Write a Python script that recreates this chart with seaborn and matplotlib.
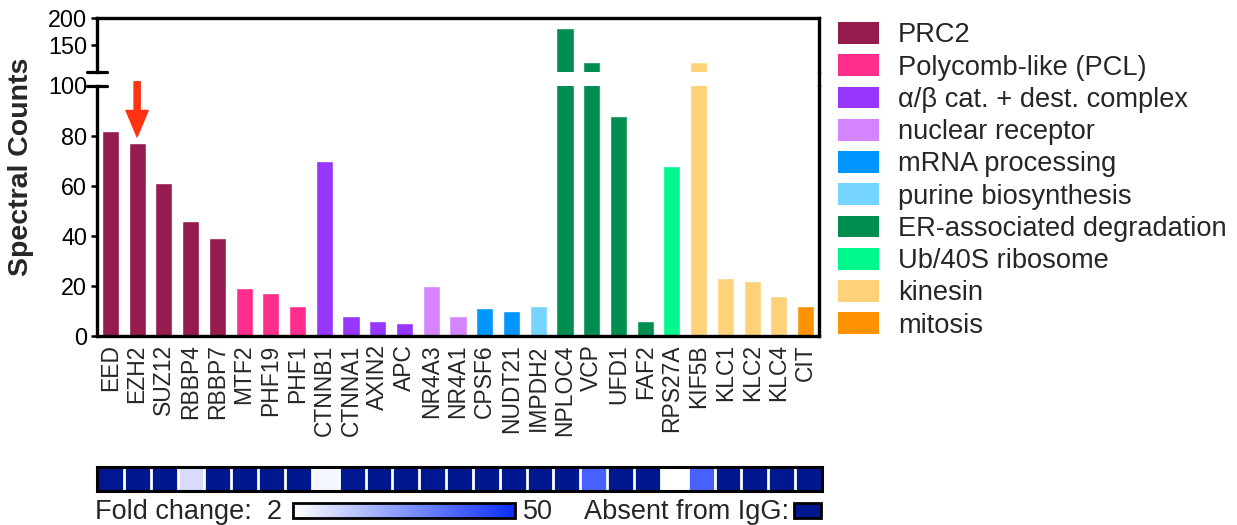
import numpy as np
import pandas as pd
import matplotlib
matplotlib.use("Agg")
import matplotlib.pyplot as plt
from matplotlib.colors import LinearSegmentedColormap, Normalize
from matplotlib.cm import ScalarMappable
from matplotlib.patches import Patch, Rectangle
from matplotlib.lines import Line2D
import seaborn as sns

# ---- data -------------------------------------------------------------
genes = ["EED", "EZH2", "SUZ12", "RBBP4", "RBBP7", "MTF2", "PHF19", "PHF1",
         "CTNNB1", "CTNNA1", "AXIN2", "APC", "NR4A3", "NR4A1", "CPSF6",
         "NUDT21", "IMPDH2", "NPLOC4", "VCP", "UFD1", "FAF2", "RPS27A",
         "KIF5B", "KLC1", "KLC2", "KLC4", "CIT"]
spectral_counts = [82, 77, 61, 46, 39, 19, 17, 12,
                   70, 8, 6, 5, 20, 8, 11,
                   10, 12, 182, 118, 88, 6, 68,
                   119, 23, 22, 16, 12]
gene_group = ["PRC2"] * 5 + ["Polycomb-like (PCL)"] * 3 \
    + ["α/β cat. + dest. complex"] * 4 + ["nuclear receptor"] * 2 \
    + ["mRNA processing"] * 2 + ["purine biosynthesis"] \
    + ["ER-associated degradation"] * 4 + ["Ub/40S ribosome"] \
    + ["kinesin"] * 4 + ["mitosis"]
group_names = ["PRC2", "Polycomb-like (PCL)", "α/β cat. + dest. complex",
               "nuclear receptor", "mRNA processing", "purine biosynthesis",
               "ER-associated degradation", "Ub/40S ribosome", "kinesin",
               "mitosis"]
group_colors = ["#961B4F", "#FF2D8C", "#9636FF", "#D584FF", "#0096FF",
                "#75D5FF", "#008E50", "#00F88F", "#FFD27A", "#FF9200"]
# enrichment over IgG control; inf = not detected in IgG
fold_change = [np.inf, np.inf, np.inf, 10, np.inf, np.inf, np.inf, np.inf,
               4, np.inf, np.inf, np.inf, np.inf, np.inf, np.inf,
               np.inf, np.inf, np.inf, 38, np.inf, np.inf, 2,
               38, np.inf, np.inf, np.inf, np.inf]
fold_min, fold_max = 2, 50
fold_ticks = [10, 20, 30, 40]

NAVY = "#00188F"
FC_BLUE = "#0A2DFF"
ARROW_RED = "#FF3311"

# ---- style ------------------------------------------------------------
sns.set_theme(style="white")
plt.rcParams["font.family"] = ["Liberation Sans", "DejaVu Sans"]

W, H = 1237, 525
fig = plt.figure(figsize=(W / 100, H / 100), dpi=100)


def fx(px):
    return px / W


def fy(py):
    return 1 - py / H


left_px, right_px = 97, 819
hi_top, hi_bot = 18.3, 71.7
lo_top, lo_bot = 85.5, 336

ax_hi = fig.add_axes([fx(left_px), fy(hi_bot), (right_px - left_px) / W, (hi_bot - hi_top) / H])
ax_lo = fig.add_axes([fx(left_px), fy(lo_bot), (right_px - left_px) / W, (lo_bot - lo_top) / H])

df = pd.DataFrame({"gene": genes, "count": spectral_counts, "group": gene_group})
palette = dict(zip(group_names, group_colors))

for ax in (ax_hi, ax_lo):
    sns.barplot(data=df, x="gene", y="count", hue="group", order=genes,
                hue_order=group_names, palette=palette, dodge=False,
                width=0.64, saturation=1, errorbar=None, legend=False, ax=ax)
    ax.set_xlabel("")
    ax.set_ylabel("")
    ax.set_xlim(-0.5, len(genes) - 0.5)
    for s in ax.spines.values():
        s.set_color("black")
        s.set_linewidth(2.4)
    ax.tick_params(axis="y", direction="out", length=4.5, width=1.8,
                   labelsize=16.8, pad=2.5, left=True, colors="black")

ax_lo.set_ylim(0, 100)
ax_lo.set_yticks([0, 20, 40, 60, 80, 100])
ax_lo.spines["top"].set_visible(False)
ax_lo.tick_params(axis="x", length=0, pad=6, labelsize=16.5, labelrotation=90)

ax_hi.set_ylim(100, 200)
ax_hi.set_yticks([150, 200])
ax_hi.spines["bottom"].set_visible(False)
ax_hi.tick_params(axis="x", bottom=False, labelbottom=False)

# right frame continues across the axis break
fig.add_artist(Line2D([fx(right_px), fx(right_px)], [fy(hi_bot), fy(lo_top)],
                      color="black", lw=2.4, transform=fig.transFigure))
# break marks on the left axis
for yb in (hi_bot, lo_top):
    fig.add_artist(Line2D([fx(87), fx(107)], [fy(yb), fy(yb)], color="black",
                          lw=2.3, transform=fig.transFigure))

# arrow pointing at EZH2
ezh2 = genes.index("EZH2")
ax_lo.annotate("", xy=(ezh2, 79.5), xytext=(ezh2, 101.5),
               arrowprops=dict(arrowstyle="simple,head_length=0.95,head_width=0.8,tail_width=0.22",
                               color=ARROW_RED, shrinkA=0, shrinkB=0,
                               mutation_scale=20),
               annotation_clip=False)

fig.text(fx(21), fy(167), "Spectral Counts", rotation=90, ha="center",
         va="center", fontsize=20.5, fontweight="bold")

# legend
handles = [Patch(facecolor=c, edgecolor="none", label=n)
           for n, c in zip(group_names, group_colors)]
fig.legend(handles=handles, loc="upper left",
           bbox_to_anchor=(fx(838), fy(22)), frameon=False, fontsize=19.6,
           handlelength=1.5, handleheight=0.85, handletextpad=0.7,
           labelspacing=0.22, borderpad=0, borderaxespad=0)

# fold-change strip; genes absent from IgG are drawn in the "over" colour
fc_cmap = LinearSegmentedColormap.from_list("fold", ["#FFFFFF", FC_BLUE])
fc_cmap.set_over(NAVY)
fc_arr = np.array(fold_change, dtype=float)
fc_plot = np.where(np.isinf(fc_arr), fold_max * 2, fc_arr)[None, :]
ax_hm = fig.add_axes([fx(97), fy(491), (822 - 97) / W, 24 / H])
sns.heatmap(fc_plot, ax=ax_hm, cmap=fc_cmap, vmin=fold_min, vmax=fold_max,
            cbar=False, linewidths=0, xticklabels=False, yticklabels=False)
# white separators between neighbouring cells only
ax_hm.vlines(np.arange(1, len(genes)), 0, 1, colors="white", lw=2)
for s in ax_hm.spines.values():
    s.set_visible(True)
    s.set_color("black")
    s.set_linewidth(2.2)

# colour key
ax_cb = fig.add_axes([fx(293), fy(518), 222 / W, 15 / H])
cb = fig.colorbar(ScalarMappable(norm=Normalize(fold_min, fold_max), cmap=fc_cmap),
                  cax=ax_cb, orientation="horizontal", ticks=fold_ticks)
cb.outline.set_linewidth(2)
cb.outline.set_edgecolor("black")
ax_cb.tick_params(axis="x", direction="in", length=3, width=1.5, top=True,
                  bottom=True, labelbottom=False, labeltop=False, colors="black")

fig.text(fx(282), fy(519), "Fold change:  " + str(fold_min), ha="right",
         va="baseline", fontsize=19.5)
fig.text(fx(523), fy(519), str(fold_max), ha="left", va="baseline", fontsize=19.5)
fig.text(fx(584), fy(519), "Absent from IgG:", ha="left", va="baseline",
         fontsize=19.5)
fig.add_artist(Rectangle((fx(794), fy(518)), 27 / W, 15 / H, facecolor=NAVY,
                         edgecolor="black", lw=2, transform=fig.transFigure))

fig.savefig("out.png", dpi=100)
